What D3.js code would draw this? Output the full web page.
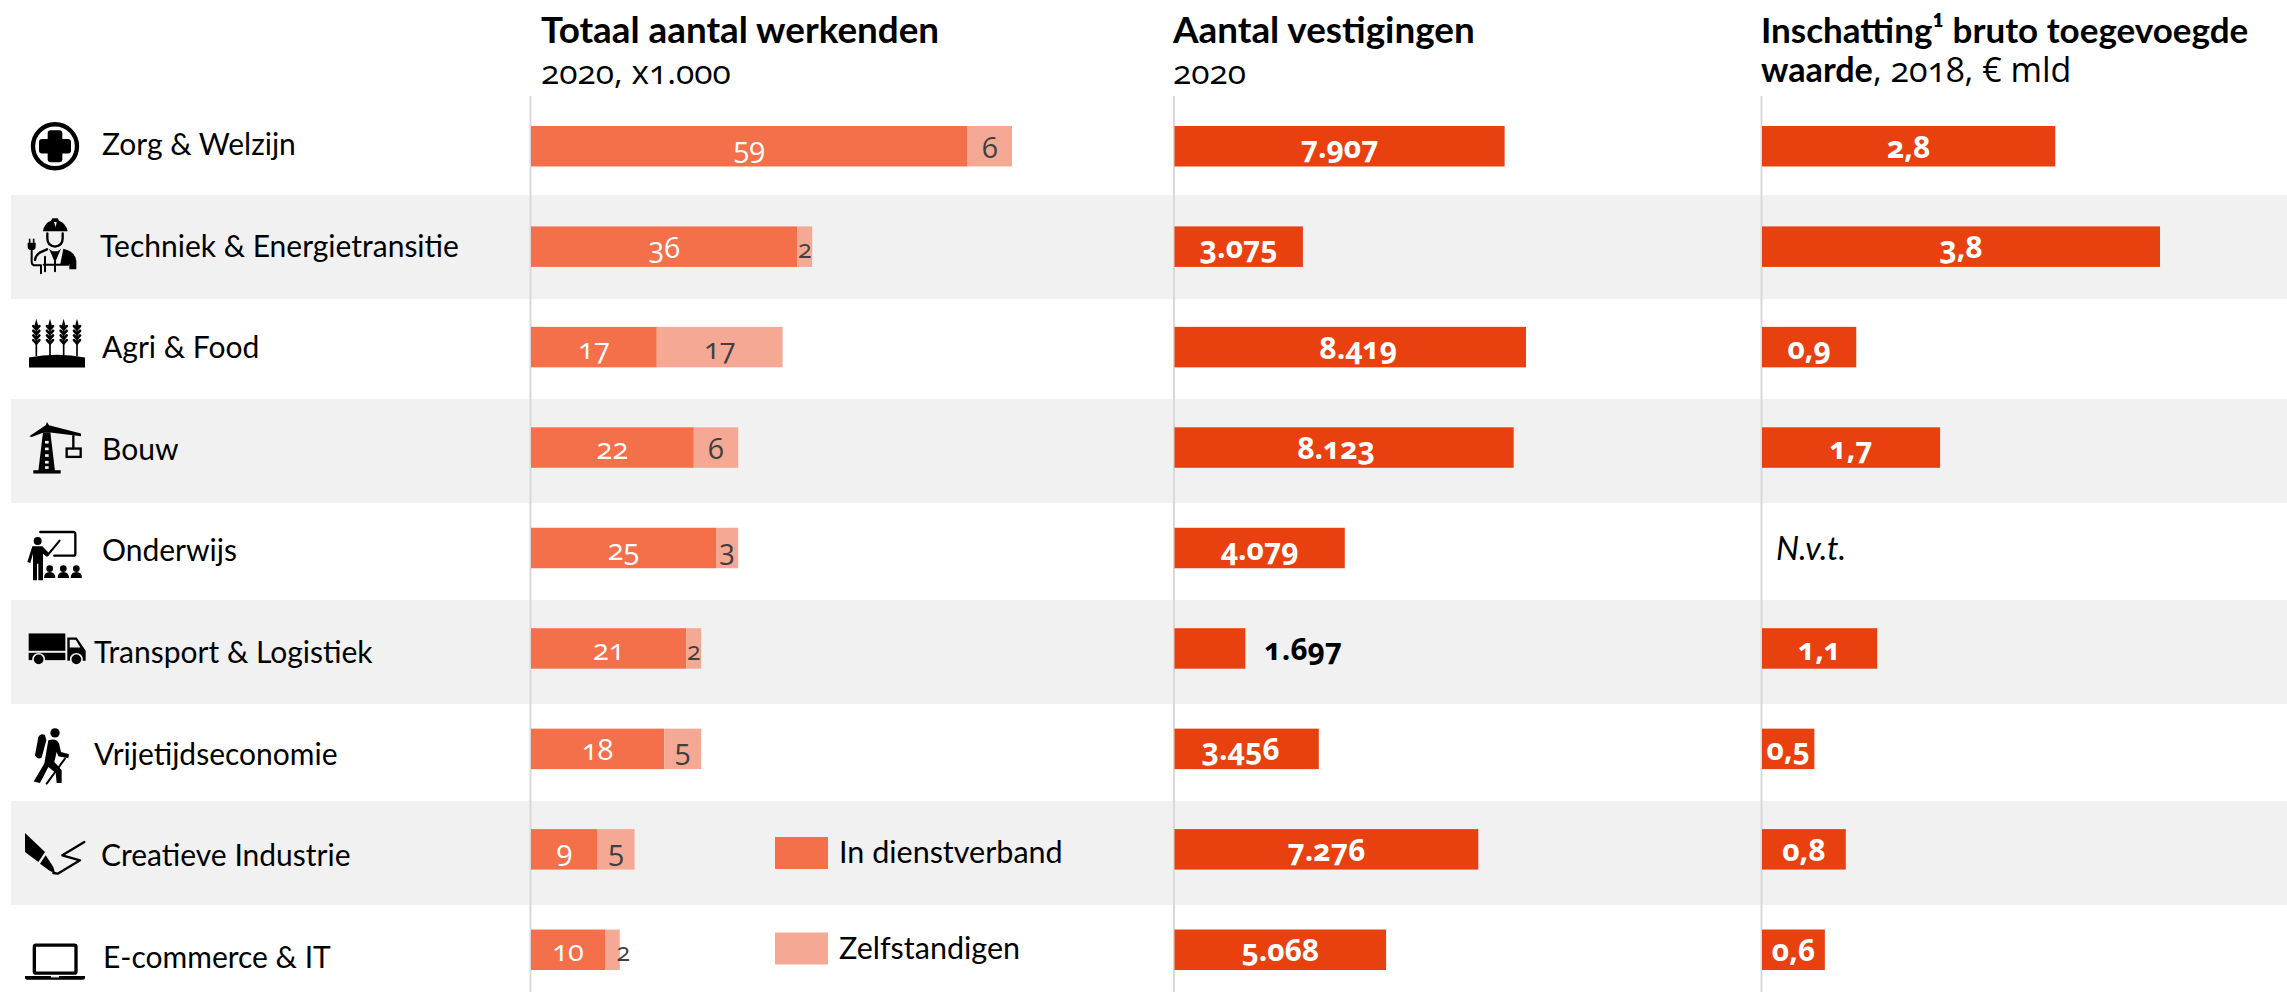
<!DOCTYPE html>
<html>
<head>
<meta charset="utf-8">
<script src="https://cdn.jsdelivr.net/npm/d3@7"></script>
<style>
  html, body { margin: 0; padding: 0; background: #fff; }
  text { font-family: Lato, sans-serif; }
  .num { font-family: "Open Sans", sans-serif; font-feature-settings: "onum" 1; }
</style>
</head>
<body>
<div id="chart"></div>
<script>
// data
const categories = ["Zorg & Welzijn", "Techniek & Energietransitie", "Agri & Food", "Bouw", "Onderwijs",
    "Transport & Logistiek", "Vrijetijdseconomie", "Creatieve Industrie", "E-commerce & IT"];
const dienstverband = [59, 36, 17, 22, 25, 21, 18, 9, 10];
const zelfstandigen = [6, 2, 17, 6, 3, 2, 5, 5, 2];
const vestigingen = [7907, 3075, 8419, 8123, 4079, 1697, 3456, 7276, 5068];
const vestigingenLabels = ["7.907", "3.075", "8.419", "8.123", "4.079", "1.697", "3.456", "7.276", "5.068"];
const toegevoegd = [2.8, 3.8, 0.9, 1.7, null, 1.1, 0.5, 0.8, 0.6];
const toegevoegdLabels = ["2,8", "3,8", "0,9", "1,7", "N.v.t.", "1,1", "0,5", "0,8", "0,6"];
const legendLabels = ["In dienstverband", "Zelfstandigen"];

const width = 2287, height = 995;
const colMid = "#F4704B", colLight = "#F5A994", colDark = "#E8410F", rowGrey = "#F1F1F1", axisGrey = "#D9D9D9";

const svg = d3.select("#chart").append("svg")
    .attr("width", width)
    .attr("height", height)
    .style("display", "block");

const y = d3.scaleBand().domain(categories).range([96, 1000]);
const mid = c => y(c) + y.bandwidth() / 2;
const barH = 40.5;
const labelDrop = 11.5;

// the names run on a slightly wider pitch than the bars
const yLabel = d3.scaleBand().domain(categories).range([95.2, 1009.6]);

const x1 = d3.scaleLinear().domain([0, 65]).range([531, 1012]);
const x2 = d3.scaleLinear().domain([0, 8419]).range([1174.5, 1526]);
const x3 = d3.scaleLinear().domain([0, 3.8]).range([1762, 2160]);

// grey stripes on every second row
const stripeTops = [195, 399, 600, 801];
svg.selectAll("rect.stripe")
    .data(stripeTops)
    .join("rect")
    .attr("class", "stripe")
    .attr("x", 11)
    .attr("width", width - 11)
    .attr("y", d => d)
    .attr("height", 104)
    .attr("fill", rowGrey);

// vertical base lines
[x1, x2, x3].forEach(s => {
    svg.append("line")
        .attr("x1", s(0) - 0.5).attr("x2", s(0) - 0.5)
        .attr("y1", 96).attr("y2", 992)
        .attr("stroke", axisGrey)
        .attr("stroke-width", 2);
});

// category names
const labelX = [102, 100, 102, 102, 102, 94, 94, 101, 103];
svg.selectAll("text.cat")
    .data(categories)
    .join("text")
    .attr("class", "cat")
    .attr("x", (c, i) => labelX[i])
    .attr("y", c => yLabel(c) + yLabel.bandwidth() / 2 + 9)
    .attr("font-size", 30)
    .attr("fill", "#000")
    .text(c => c);

// first panel, stacked
svg.selectAll("rect.dienst")
    .data(dienstverband)
    .join("rect")
    .attr("class", "dienst")
    .attr("x", x1(0))
    .attr("y", (d, i) => mid(categories[i]) - barH / 2)
    .attr("width", d => x1(d) - x1(0))
    .attr("height", barH)
    .attr("fill", colMid);

svg.selectAll("rect.zelf")
    .data(zelfstandigen)
    .join("rect")
    .attr("class", "zelf")
    .attr("x", (d, i) => x1(dienstverband[i]))
    .attr("y", (d, i) => mid(categories[i]) - barH / 2)
    .attr("width", (d, i) => x1(dienstverband[i] + d) - x1(dienstverband[i]))
    .attr("height", barH)
    .attr("fill", colLight);

svg.selectAll("text.dienstLabel")
    .data(dienstverband)
    .join("text")
    .attr("class", "dienstLabel num")
    .attr("x", d => x1(d / 2))
    .attr("y", (d, i) => mid(categories[i]) + labelDrop)
    .attr("text-anchor", "middle")
    .attr("font-size", 29)
    .attr("fill", "#fff")
    .text(d => d);

svg.selectAll("text.zelfLabel")
    .data(zelfstandigen)
    .join("text")
    .attr("class", "zelfLabel num")
    .attr("x", (d, i) => x1(dienstverband[i] + d / 2) + (i == 8 ? 11 : 0)) // last one sticks out of its bar
    .attr("y", (d, i) => mid(categories[i]) + labelDrop)
    .attr("text-anchor", "middle")
    .attr("font-size", d => d == 2 ? 25 : 29)
    .attr("fill", "#404040")
    .text(d => d);

// second panel
svg.selectAll("rect.vest")
    .data(vestigingen)
    .join("rect")
    .attr("class", "vest")
    .attr("x", x2(0))
    .attr("y", (d, i) => mid(categories[i]) - barH / 2)
    .attr("width", d => x2(d) - x2(0))
    .attr("height", barH)
    .attr("fill", colDark);

// a few of these labels are not quite centred in the reference
const vestNudge = [0, 0, 8, -8, 0, 0, -6, 0, 0];
svg.selectAll("text.vestLabel")
    .data(vestigingen)
    .join("text")
    .attr("class", "vestLabel num")
    .attr("x", (d, i) => d < 2000 ? x2(d) + 19 : x2(d / 2) + vestNudge[i])
    .attr("y", (d, i) => mid(categories[i]) + labelDrop)
    .attr("text-anchor", d => d < 2000 ? "start" : "middle")
    .attr("font-size", 30)
    .attr("font-weight", 700)
    .attr("fill", d => d < 2000 ? "#000" : "#fff")
    .text((d, i) => vestigingenLabels[i]);

// third panel, Onderwijs has no value
svg.selectAll("rect.bruto")
    .data(toegevoegd)
    .join("rect")
    .attr("class", "bruto")
    .attr("x", x3(0))
    .attr("y", (d, i) => mid(categories[i]) - barH / 2)
    .attr("width", d => d == null ? 0 : x3(d) - x3(0))
    .attr("height", barH)
    .attr("fill", colDark);

svg.selectAll("text.brutoLabel")
    .data(toegevoegd)
    .join("text")
    .attr("class", d => d == null ? "brutoLabel" : "brutoLabel num")
    .attr("x", d => d == null ? x3(0) + 14 : x3(d / 2))
    .attr("y", (d, i) => mid(categories[i]) + labelDrop)
    .attr("text-anchor", d => d == null ? "start" : "middle")
    .attr("font-size", d => d == null ? 32.5 : 30)
    .attr("font-weight", d => d == null ? 400 : 700)
    .attr("font-style", d => d == null ? "italic" : "normal")
    .attr("fill", d => d == null ? "#000" : "#fff")
    .text((d, i) => toegevoegdLabels[i]);

// headers
function header(xPos, yPos, parts) {
    const t = svg.append("text").attr("x", xPos).attr("y", yPos).attr("fill", "#000");
    parts.forEach(p => {
        t.append("tspan")
            .attr("class", p.num ? "num" : null)
            .attr("font-size", p.size)
            .attr("font-weight", p.bold ? 700 : 400)
            .text(p.text);
    });
}
header(541, 43, [{ text: "Totaal aantal werkenden", size: 36.8, bold: true }]);
header(541, 84, [{ text: "2020, x1.000", size: 33.5, num: true }]);
header(1173, 43, [{ text: "Aantal vestigingen", size: 36.8, bold: true }]);
header(1173, 84, [{ text: "2020", size: 33.5, num: true }]);
header(1761, 43, [{ text: "Inschatting¹ bruto toegevoegde", size: 35, bold: true }]);
header(1761, 82, [{ text: "waarde", size: 34.2, bold: true }, { text: ", 2018, € mld", size: 34, num: true }]);

// legend
const legendY = d3.scalePoint().domain(legendLabels).range([853, 948.5]);
const legendColor = d3.scaleOrdinal().domain(legendLabels).range([colMid, colLight]);
svg.selectAll("rect.legend")
    .data(legendLabels)
    .join("rect")
    .attr("class", "legend")
    .attr("x", 775)
    .attr("width", 53)
    .attr("y", d => legendY(d) - 16)
    .attr("height", 32)
    .attr("fill", d => legendColor(d));
svg.selectAll("text.legendText")
    .data(legendLabels)
    .join("text")
    .attr("class", "legendText")
    .attr("x", 839)
    .attr("y", d => legendY(d) + 10)
    .attr("font-size", 30.5)
    .attr("fill", "#000")
    .text(d => d);

// icons, drawn by hand at 3x; cy is where the row centre falls inside the drawing
function icon(row, cy, draw) {
    const g = svg.append("g")
        .attr("transform", `translate(15,${mid(categories[row]) - cy / 3}) scale(${1 / 3})`);
    draw(g);
}
const fillPath = (g, d, c) => g.append("path").attr("d", d).attr("fill", c || "#000");
const linePath = (g, d, w) => g.append("path").attr("d", d).attr("fill", "none").attr("stroke", "#000")
    .attr("stroke-width", w).attr("stroke-linecap", "round").attr("stroke-linejoin", "round");

icon(0, 108, g => {
    g.append("circle").attr("cx", 120).attr("cy", 108).attr("r", 66).attr("fill", "none").attr("stroke", "#000").attr("stroke-width", 13);
    g.append("rect").attr("x", 72).attr("y", 86).attr("width", 96).attr("height", 44).attr("rx", 9);
    g.append("rect").attr("x", 98).attr("y", 60).attr("width", 44).attr("height", 96).attr("rx", 9);
});

icon(1, 410, g => {
    fillPath(g, "M84 364 Q88 338 108 332 L112 325 L128 325 L132 332 Q152 338 158 364 Z");
    fillPath(g, "M117 336 L125 336 L122 352 Z", rowGrey);
    linePath(g, "M97 370 V385 Q97 408 120 410 Q143 408 143 385 V370", 7);
    fillPath(g, "M145 416 Q180 424 184 452 V478 H163 V462 H136 Z");
    fillPath(g, "M102 416 L120 458 L138 416 L128 424 H112 Z");
    linePath(g, "M96 418 L74 428 Q62 436 60 450", 7);
    linePath(g, "M120 455 V484 M86 464 H160", 6);
    linePath(g, "M90 440 V484", 6);
    fillPath(g, "M38 398 H62 V410 Q62 420 50 420 Q38 420 38 410 Z");
    linePath(g, "M44 388 V398 M56 388 V398", 5);
    linePath(g, "M50 420 V455 Q50 466 62 466 H78 V490", 6);
});

icon(2, 111, g => {
    fillPath(g, "M42 172 V142 Q125 126 210 142 V172 Z");
    [64, 105, 146, 186].forEach(sx => {
        fillPath(g, `M${sx} 26 L${sx + 7} 52 L${sx - 7} 52 Z`);
        linePath(g, `M${sx} 50 V136`, 5);
        [48, 62, 76, 90].forEach(sy => linePath(g, `M${sx - 9} ${sy} L${sx} ${sy + 10} L${sx + 9} ${sy}`, 8));
    });
});

icon(3, 412, g => {
    fillPath(g, "M43 378 L92 345 L96 335 L102 345 L198 370 V378 L100 366 H88 L50 380 Z");
    fillPath(g, "M84 366 H106 L120 482 H70 Z");
    [392, 412, 432, 452, 468].forEach(ry => {
        g.append("rect").attr("x", 90).attr("y", ry).attr("width", 11).attr("height", 8).attr("fill", rowGrey);
    });
    g.append("rect").attr("x", 55).attr("y", 480).attr("width", 82).attr("height", 10);
    linePath(g, "M175 378 V414", 7);
    g.append("rect").attr("x", 155).attr("y", 415).attr("width", 42).attr("height", 25).attr("fill", "none").attr("stroke", "#000").attr("stroke-width", 7);
});

icon(4, 83, g => {
    linePath(g, "M76 35 H175 Q181 35 181 42 V100 Q181 106 175 106 H118", 7);
    linePath(g, "M98 104 L134 61", 6);
    g.append("circle").attr("cx", 68).attr("cy", 62).attr("r", 12);
    fillPath(g, "M52 78 H82 L104 100 L96 110 L84 100 V180 H70 V130 H66 V180 H54 V100 L46 128 L37 125 Z");
    [104, 145, 184].forEach(cx => {
        g.append("circle").attr("cx", cx).attr("cy", 145).attr("r", 10);
        fillPath(g, `M${cx - 17} 173 Q${cx - 17} 155 ${cx} 155 Q${cx + 17} 155 ${cx + 17} 173 Z`);
    });
});

icon(5, 385, g => {
    g.append("rect").attr("x", 41).attr("y", 340).attr("width", 110).attr("height", 52);
    g.append("rect").attr("x", 41).attr("y", 398).attr("width", 110).attr("height", 22);
    fillPath(g, "M157 352 H185 L212 392 V422 H157 Z");
    fillPath(g, "M164 359 H182 L196 382 H164 Z", rowGrey);
    [71, 184].forEach(cx => {
        g.append("circle").attr("cx", cx).attr("cy", 418).attr("r", 17).attr("stroke", rowGrey).attr("stroke-width", 5);
    });
});

icon(6, 86, g => {
    g.append("circle").attr("cx", 120).attr("cy", 38).attr("r", 14);
    fillPath(g, "M60 105 L70 50 Q76 38 90 44 L94 60 L80 112 Q68 120 60 105 Z");
    fillPath(g, "M100 60 Q125 52 132 70 L138 95 L162 102 L160 114 L130 108 L125 95 L118 125 L140 150 L140 188 L125 188 L122 158 L100 140 L75 188 L56 184 L88 130 Z");
    linePath(g, "M150 115 L95 190", 6);
});

icon(7, 387, g => {
    fillPath(g, "M30 338 L90 395 L70 425 L30 395 Z");
    fillPath(g, "M92 405 L115 440 L120 458 L105 452 L75 430 Z");
    linePath(g, "M115 458 L128 460 L195 420 L142 405 L208 365", 7);
});

icon(8, 688, g => {
    g.append("rect").attr("x", 58).attr("y", 674).attr("width", 125).attr("height", 84).attr("rx", 5).attr("fill", "none").attr("stroke", "#000").attr("stroke-width", 10);
    fillPath(g, "M30 767 H210 V772 Q210 778 200 778 H40 Q30 778 30 772 Z");
    fillPath(g, "M108 767 H132 V771 H108 Z", "#fff");
});
</script>
</body>
</html>
